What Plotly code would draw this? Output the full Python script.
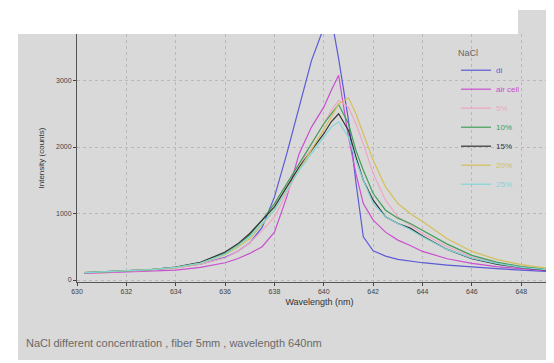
import plotly.graph_objects as go

wavelength = [630.3, 631, 632, 633, 634, 635, 636, 636.5, 637, 637.5, 638, 638.5, 639, 639.5, 640,
              640.3, 640.6, 641, 641.3, 641.6, 642, 642.5, 643, 643.5, 644, 645, 646, 647, 648, 649, 649.7]

di = [105, 115, 130, 150, 185, 240, 340, 430, 560, 790, 1250, 1900, 2600, 3300, 3800,
      3950, 3330, 2400, 1470, 650, 440, 360, 310, 285, 260, 225, 195, 170, 150, 130, 115]
air_cell = [100, 110, 120, 135, 150, 190, 260, 320, 400, 500, 720, 1250, 1900, 2300, 2600,
            2850, 3080, 2150, 1600, 1150, 900, 720, 600, 520, 430, 320, 250, 200, 165, 140, 125]
pct5 = [105, 115, 130, 150, 180, 240, 330, 430, 560, 740, 950, 1300, 1700, 2050, 2350,
        2550, 2700, 2600, 2350, 2050, 1600, 1200, 950, 820, 700, 500, 350, 260, 200, 160, 140]
pct10 = [110, 120, 135, 155, 190, 260, 400, 520, 680, 900, 1150, 1450, 1750, 2050, 2350,
         2500, 2640, 2350, 1950, 1650, 1300, 1050, 930, 850, 750, 540, 370, 270, 200, 160, 140]
pct15 = [110, 120, 135, 155, 195, 265, 420, 540, 700, 900, 1100, 1400, 1700, 1950, 2200,
         2380, 2500, 2250, 1850, 1500, 1200, 950, 850, 780, 660, 460, 320, 240, 185, 150, 130]
pct20 = [110, 120, 135, 155, 185, 250, 380, 490, 620, 830, 1050, 1350, 1650, 1950, 2250,
         2450, 2650, 2740, 2500, 2200, 1800, 1400, 1150, 1000, 880, 620, 430, 310, 230, 180, 150]
pct25 = [110, 120, 135, 155, 190, 255, 390, 510, 650, 850, 1050, 1350, 1650, 1900, 2150,
         2300, 2380, 2150, 1800, 1500, 1150, 950, 850, 760, 650, 460, 330, 250, 190, 155, 135]

series_names = ["di", "air cell", "5%", "10%", "15%", "20%", "25%"]
series_values = [di, air_cell, pct5, pct10, pct15, pct20, pct25]
series_colors = ["#5b5bd6", "#c94fd0", "#f0a6c6", "#3f9f5a", "#333333", "#d4bf5a", "#7fd6d8"]

x_ticks = [630, 632, 634, 636, 638, 640, 642, 644, 646, 648]
y_ticks = [0, 1000, 2000, 3000]

W, H = 554, 363
L, R, T, B = 69, 554, 26, 274
pw, ph = R - L, B - T

def px(x):
    return (x - L) / pw

def py(y):
    return (B - y) / ph

fig = go.Figure()
for name, vals, col in zip(series_names, series_values, series_colors):
    fig.add_trace(go.Scatter(x=wavelength, y=vals, mode="lines",
                             name=f"<span style='color:{col}'>{name}</span>",
                             line=dict(color=col, width=1.2)))

bg = "#d9d9d9"
fig.update_layout(
    width=W, height=H,
    margin=dict(l=L, r=W - R, t=T, b=H - B),
    paper_bgcolor="white", plot_bgcolor=bg,
    font=dict(family="Liberation Sans, Arial", size=7, color="#444"),
    showlegend=True,
    legend=dict(x=px(448), y=py(36), xanchor="left", yanchor="top",
                bgcolor="rgba(0,0,0,0)", font=dict(size=8, color="#666"),
                title=dict(text="NaCl", font=dict(size=9, color="#666")),
                tracegroupgap=0, itemwidth=30),
    shapes=[
        dict(type="rect", xref="paper", yref="paper", x0=px(10), x1=px(554), y0=py(352), y1=py(26),
             fillcolor=bg, line=dict(width=0), layer="below"),
        dict(type="rect", xref="paper", yref="paper", x0=px(510), x1=px(554), y0=py(26), y1=py(2),
             fillcolor=bg, line=dict(width=0), layer="below"),
    ],
    annotations=[
        dict(text="NaCl different concentration , fiber 5mm , wavelength 640nm",
             xref="paper", yref="paper", x=px(16), y=py(335), xanchor="left", yanchor="middle",
             showarrow=False, font=dict(size=11, color="#6a6a6a")),
    ],
)
fig.update_xaxes(range=[630, 649.65], tickvals=x_ticks, ticks="outside", ticklen=3,
                 showline=True, linecolor="#555", linewidth=1,
                 showgrid=True, gridcolor="#b9b9b9", griddash="dot", gridwidth=1,
                 zeroline=False, title=dict(text="Wavelength (nm)", font=dict(size=9, color="#333"), standoff=4))
fig.update_yaxes(range=[-30, 3700], tickvals=y_ticks, ticks="outside", ticklen=3,
                 showline=True, linecolor="#555", linewidth=1,
                 showgrid=True, gridcolor="#b9b9b9", griddash="dot", gridwidth=1,
                 zeroline=False, title=dict(text="Intensity (counts)", font=dict(size=8, color="#333"), standoff=10))

fig.write_html("out.html")
